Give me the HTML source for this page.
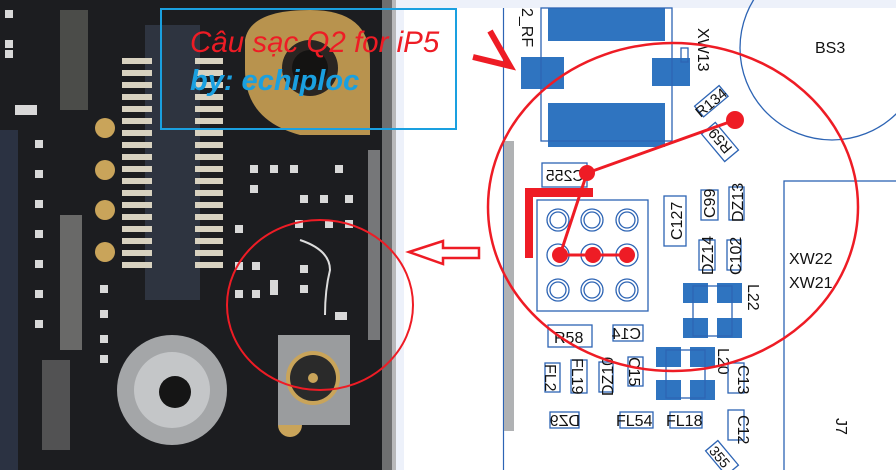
<!DOCTYPE html>
<html><head><meta charset="utf-8"><style>
html,body{margin:0;padding:0;background:#fff;width:896px;height:470px;overflow:hidden}
svg{display:block}
.t{font-family:"Liberation Sans",sans-serif;font-size:16px;fill:#111}
.b{fill:none;stroke:#2d64b4;stroke-width:1.3}
.p{fill:#2f74c0}
</style></head><body>
<svg width="896" height="470" viewBox="0 0 896 470" xmlns="http://www.w3.org/2000/svg">
<!-- photo -->
<rect x="0" y="0" width="395" height="470" fill="#1c1d20"/>
<rect x="0" y="130" width="18" height="340" fill="#2b3242"/>
<rect x="60" y="215" width="22" height="135" fill="#8a8a88" opacity=".7"/>
<rect x="42" y="360" width="28" height="90" fill="#777" opacity=".6"/>
<rect x="60" y="10" width="28" height="100" fill="#6b6d66" opacity=".6"/>
<rect x="368" y="150" width="12" height="190" fill="#8d8f90" opacity=".8"/>
<rect x="382" y="0" width="12" height="470" fill="#6e6f70"/>
<rect x="392" y="0" width="4" height="470" fill="#b8b8ba"/>
<!-- connector -->
<rect x="145" y="25" width="55" height="275" fill="#2e3440"/>
<g fill="#d8d2c0">
<rect x="122" y="58" width="30" height="6"/><rect x="122" y="70" width="30" height="6"/><rect x="122" y="82" width="30" height="6"/><rect x="122" y="94" width="30" height="6"/><rect x="122" y="106" width="30" height="6"/><rect x="122" y="118" width="30" height="6"/><rect x="122" y="130" width="30" height="6"/><rect x="122" y="142" width="30" height="6"/><rect x="122" y="154" width="30" height="6"/><rect x="122" y="166" width="30" height="6"/><rect x="122" y="178" width="30" height="6"/><rect x="122" y="190" width="30" height="6"/><rect x="122" y="202" width="30" height="6"/><rect x="122" y="214" width="30" height="6"/><rect x="122" y="226" width="30" height="6"/><rect x="122" y="238" width="30" height="6"/><rect x="122" y="250" width="30" height="6"/><rect x="122" y="262" width="30" height="6"/>
<rect x="195" y="58" width="28" height="6"/><rect x="195" y="70" width="28" height="6"/><rect x="195" y="82" width="28" height="6"/><rect x="195" y="94" width="28" height="6"/><rect x="195" y="106" width="28" height="6"/><rect x="195" y="118" width="28" height="6"/><rect x="195" y="130" width="28" height="6"/><rect x="195" y="142" width="28" height="6"/><rect x="195" y="154" width="28" height="6"/><rect x="195" y="166" width="28" height="6"/><rect x="195" y="178" width="28" height="6"/><rect x="195" y="190" width="28" height="6"/><rect x="195" y="202" width="28" height="6"/><rect x="195" y="214" width="28" height="6"/><rect x="195" y="226" width="28" height="6"/><rect x="195" y="238" width="28" height="6"/><rect x="195" y="250" width="28" height="6"/><rect x="195" y="262" width="28" height="6"/>
</g>
<g fill="#c9a45a"><circle cx="105" cy="128" r="10"/><circle cx="105" cy="170" r="10"/><circle cx="105" cy="210" r="10"/><circle cx="105" cy="252" r="10"/><circle cx="290" cy="425" r="12"/></g>
<!-- gold ring -->
<path d="M245 40 Q250 10 310 10 Q370 10 370 60 L370 135 L300 135 Q245 120 245 70 Z" fill="#b8934e"/>
<circle cx="310" cy="68" r="28" fill="#2a2522"/>
<circle cx="310" cy="68" r="18" fill="#141312"/>
<!-- silver standoff -->
<circle cx="172" cy="390" r="55" fill="#a4a6a8"/>
<circle cx="172" cy="390" r="38" fill="#c4c6c8"/>
<circle cx="175" cy="392" r="16" fill="#151515"/>
<!-- coax -->
<rect x="278" y="335" width="72" height="90" fill="#9a9c9e"/>
<circle cx="313" cy="378" r="27" fill="#c9a45a"/>
<circle cx="313" cy="378" r="23" fill="#2a2a2a"/>
<circle cx="313" cy="378" r="5" fill="#c9a45a"/>
<!-- small parts -->
<g fill="#d8d8d8">
<rect x="250" y="165" width="8" height="8"/><rect x="270" y="165" width="8" height="8"/><rect x="290" y="165" width="8" height="8"/><rect x="335" y="165" width="8" height="8"/>
<rect x="250" y="185" width="8" height="8"/><rect x="300" y="195" width="8" height="8"/><rect x="320" y="195" width="8" height="8"/><rect x="345" y="195" width="8" height="8"/>
<rect x="235" y="225" width="8" height="8"/><rect x="295" y="220" width="8" height="8"/><rect x="325" y="220" width="8" height="8"/><rect x="345" y="220" width="8" height="8"/>
<rect x="235" y="262" width="8" height="8"/><rect x="252" y="262" width="8" height="8"/><rect x="300" y="265" width="8" height="8"/><rect x="300" y="285" width="8" height="8"/>
<rect x="235" y="290" width="8" height="8"/><rect x="252" y="290" width="8" height="8"/><rect x="270" y="280" width="8" height="15"/><rect x="335" y="312" width="12" height="8"/>
<rect x="100" y="285" width="8" height="8"/><rect x="100" y="310" width="8" height="8"/><rect x="100" y="335" width="8" height="8"/><rect x="100" y="355" width="8" height="8"/>
<rect x="35" y="140" width="8" height="8"/><rect x="35" y="170" width="8" height="8"/><rect x="35" y="200" width="8" height="8"/><rect x="35" y="230" width="8" height="8"/><rect x="35" y="260" width="8" height="8"/><rect x="35" y="290" width="8" height="8"/><rect x="35" y="320" width="8" height="8"/>
<rect x="5" y="10" width="8" height="8"/><rect x="5" y="40" width="8" height="8"/><rect x="5" y="50" width="8" height="8"/><rect x="15" y="105" width="22" height="10"/>
</g>
<path d="M300 240 Q330 250 330 270 Q325 290 325 315" stroke="#ddd" stroke-width="2" fill="none"/>
<!-- separators -->
<rect x="396" y="0" width="8" height="470" fill="#edf1fa"/>
<rect x="404" y="0" width="492" height="8" fill="#edf1fa"/>
<!-- schematic -->
<line x1="503.5" y1="8" x2="503.5" y2="470" stroke="#2d64b4" stroke-width="1.2"/>
<rect x="504" y="141" width="10" height="290" fill="#b0b2b4"/>
<rect class="p" x="548" y="8" width="117" height="33"/>
<rect class="p" x="548" y="103" width="117" height="44"/>
<rect class="p" x="521" y="57" width="43" height="32"/>
<rect class="p" x="652" y="58" width="38" height="28"/>
<rect class="b" x="541" y="8" width="131" height="133"/>
<rect class="b" x="681" y="48" width="7" height="14"/>
<text class="t" transform="translate(522,8) rotate(90)">2_RF</text>
<text class="t" transform="translate(698,28) rotate(90)">XW13</text>
<circle cx="832" cy="48" r="92" class="b"/>
<text class="t" x="815" y="53">BS3</text>
<g transform="translate(712,102) rotate(-40)"><rect class="b" x="-16" y="-8" width="32" height="14"/><text class="t" x="-19" y="5" style="font-size:15px">R134</text></g>
<g transform="translate(720,142) rotate(-130)"><rect class="b" x="-18" y="-9" width="36" height="18"/><text class="t" x="-13" y="6" style="font-size:15px">R59</text></g>
<g transform="translate(565,175) scale(-1,1)"><rect class="b" x="-22" y="-12" width="45" height="24"/><text class="t" x="-19" y="6">C255</text></g>
<rect class="b" x="537" y="200" width="111" height="111"/>
<g class="b" stroke-width="1.2">
<circle cx="558" cy="220" r="11"/><circle cx="558" cy="220" r="8"/><circle cx="592" cy="220" r="11"/><circle cx="592" cy="220" r="8"/><circle cx="627" cy="220" r="11"/><circle cx="627" cy="220" r="8"/>
<circle cx="558" cy="255" r="11"/><circle cx="592" cy="255" r="11"/><circle cx="627" cy="255" r="11"/>
<circle cx="558" cy="290" r="11"/><circle cx="558" cy="290" r="8"/><circle cx="592" cy="290" r="11"/><circle cx="592" cy="290" r="8"/><circle cx="627" cy="290" r="11"/><circle cx="627" cy="290" r="8"/>
</g>
<rect class="b" x="664" y="196" width="22" height="50"/><text class="t" transform="translate(682,240) rotate(-90)">C127</text>
<rect class="b" x="701" y="190" width="17" height="30"/><text class="t" transform="translate(715,218) rotate(-90)">C99</text>
<rect class="b" x="729" y="187" width="15" height="33"/><text class="t" transform="translate(743,222) rotate(-90)">DZ13</text>
<rect class="b" x="699" y="240" width="16" height="30"/><text class="t" transform="translate(713,275) rotate(-90)">DZ14</text>
<rect class="b" x="727" y="240" width="14" height="30"/><text class="t" transform="translate(741,275) rotate(-90)">C102</text>
<rect class="b" x="784" y="181" width="120" height="300"/>
<text class="t" x="789" y="264">XW22</text>
<text class="t" x="789" y="288">XW21</text>
<rect class="p" x="683" y="283" width="25" height="20"/><rect class="p" x="717" y="283" width="25" height="20"/><rect class="p" x="683" y="318" width="25" height="20"/><rect class="p" x="717" y="318" width="25" height="20"/>
<rect class="b" x="693" y="286" width="39" height="50"/>
<text class="t" transform="translate(748,284) rotate(90)">L22</text>
<rect class="b" x="548" y="325" width="44" height="22"/><text class="t" x="554" y="343">R58</text>
<g transform="translate(628,333) scale(-1,1)"><rect class="b" x="-15" y="-8" width="30" height="16"/><text class="t" x="-13" y="6">C14</text></g>
<rect class="p" x="656" y="347" width="25" height="20"/><rect class="p" x="690" y="347" width="25" height="20"/><rect class="p" x="656" y="380" width="25" height="20"/><rect class="p" x="690" y="380" width="25" height="20"/>
<rect class="b" x="666" y="350" width="39" height="48"/>
<text class="t" transform="translate(718,348) rotate(90)">L20</text>
<rect class="b" x="545" y="363" width="15" height="29"/><text class="t" transform="translate(545,364) rotate(90)">FL2</text>
<rect class="b" x="571" y="360" width="16" height="33"/><text class="t" transform="translate(572,358) rotate(90)">FL19</text>
<rect class="b" x="599" y="362" width="14" height="30"/><text class="t" transform="translate(613,396) rotate(-90)">DZ10</text>
<rect class="b" x="628" y="357" width="15" height="29"/><text class="t" transform="translate(629,357) rotate(90)">C15</text>
<rect class="b" x="728" y="363" width="16" height="30"/><text class="t" transform="translate(738,365) rotate(90)">C13</text>
<rect class="b" x="728" y="410" width="16" height="30"/><text class="t" transform="translate(738,415) rotate(90)">C12</text>
<g transform="translate(565,420) scale(-1,1)"><rect class="b" x="-14" y="-8" width="29" height="16"/><text class="t" x="-15" y="6">DZ9</text></g>
<rect class="b" x="620" y="412" width="33" height="16"/><text class="t" x="616" y="426">FL54</text>
<rect class="b" x="670" y="412" width="32" height="16"/><text class="t" x="666" y="426">FL18</text>
<text class="t" transform="translate(836,418) rotate(90)">J7</text>
<g transform="translate(722,458) rotate(50)"><rect class="b" x="-16" y="-8" width="32" height="16"/><text class="t" x="-14" y="6" style="font-size:14px">355</text></g>
<!-- red annotations -->
<rect x="525" y="188" width="8" height="70" fill="#ee1c25"/>
<rect x="525" y="188" width="68" height="9" fill="#ee1c25"/>
<line x1="735" y1="120" x2="587" y2="173" stroke="#ee1c25" stroke-width="3"/>
<line x1="587" y1="173" x2="560" y2="255" stroke="#ee1c25" stroke-width="3"/>
<line x1="560" y1="255" x2="627" y2="255" stroke="#ee1c25" stroke-width="3"/>
<g fill="#ee1c25"><circle cx="735" cy="120" r="9"/><circle cx="587" cy="173" r="8"/><circle cx="560" cy="255" r="8"/><circle cx="593" cy="255" r="8"/><circle cx="627" cy="255" r="8"/></g>
<ellipse cx="673" cy="207" rx="185" ry="164" fill="none" stroke="#ee1c25" stroke-width="2.5"/>
<ellipse cx="320" cy="305" rx="93" ry="85" fill="none" stroke="#ee1c25" stroke-width="2"/>
<path d="M409 252 L443 241 L443 248 L479 248 L479 258 L443 258 L443 264 Z" fill="none" stroke="#ee1c25" stroke-width="2.5"/>
<path d="M490 31 L510 66 L473 57" fill="none" stroke="#ee1c25" stroke-width="6" stroke-linejoin="miter"/>
<!-- caption box -->
<rect x="161" y="9" width="295" height="120" fill="none" stroke="#1aa0e0" stroke-width="2"/>
<text x="190" y="52" style="font-family:'Liberation Sans',sans-serif;font-style:italic;font-size:29.5px;fill:#ee1c25">Câu sạc Q2 for iP5</text>
<text x="190" y="90" style="font-family:'Liberation Sans',sans-serif;font-style:italic;font-weight:bold;font-size:29px;fill:#1aa0e0">by: echiploc</text>
</svg>
</body></html>
